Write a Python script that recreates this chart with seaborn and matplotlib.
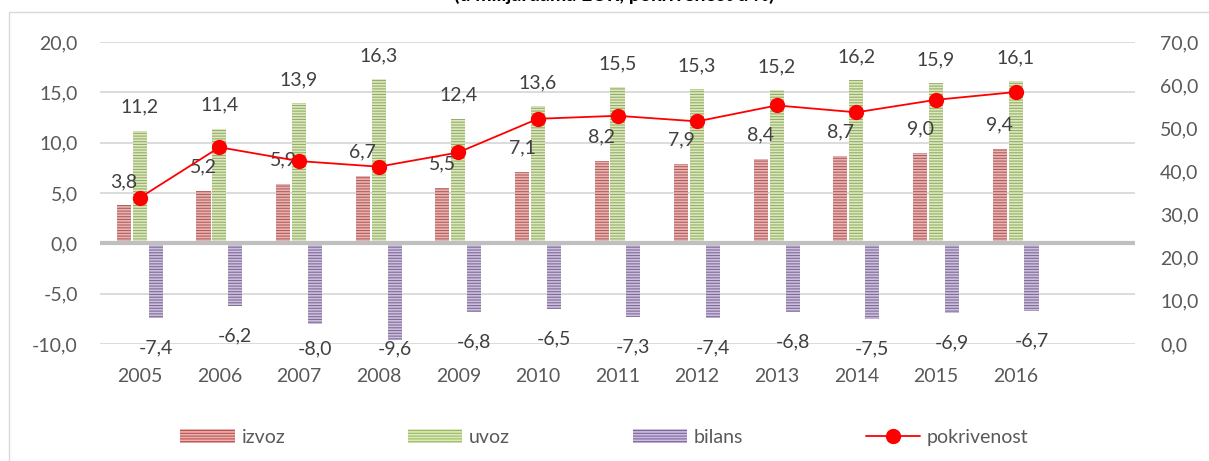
import numpy as np
import pandas as pd
import matplotlib
matplotlib.use("Agg")
import matplotlib.pyplot as plt
from matplotlib.patches import Patch, Rectangle
from matplotlib.lines import Line2D
from matplotlib.ticker import FuncFormatter, MultipleLocator
import seaborn as sns

# podaci ocitani sa slike
godine = ["2005", "2006", "2007", "2008", "2009", "2010", "2011", "2012", "2013", "2014", "2015", "2016"]
izvoz = [3.8, 5.2, 5.9, 6.7, 5.5, 7.1, 8.2, 7.9, 8.4, 8.7, 9.0, 9.4]
uvoz = [11.2, 11.4, 13.9, 16.3, 12.4, 13.6, 15.5, 15.3, 15.2, 16.2, 15.9, 16.1]
bilans = [-7.4, -6.2, -8.0, -9.6, -6.8, -6.5, -7.3, -7.4, -6.8, -7.5, -6.9, -6.7]
pokrivenost = [33.9, 45.6, 42.4, 41.1, 44.4, 52.2, 52.9, 51.6, 55.3, 53.7, 56.6, 58.4]
serije = ["izvoz", "uvoz", "bilans"]

boje = {"izvoz": "#c0504d", "uvoz": "#9bbb59", "bilans": "#8064a2"}
svijetle = {"izvoz": "#e8b4b3", "uvoz": "#dbe8c2", "bilans": "#cbbfdc"}
tekst_boja = "#404040"
osa_boja = "#595959"

df = pd.DataFrame({
    "godina": godine * 3,
    "serija": ["izvoz"] * 12 + ["uvoz"] * 12 + ["bilans"] * 12,
    "vrijednost": izvoz + uvoz + bilans,
})

sns.set_style("white")
plt.rcParams["font.family"] = ["Lato", "DejaVu Sans"]
plt.rcParams["hatch.linewidth"] = 1.2

fig = plt.figure(figsize=(12.09, 4.61), dpi=100)
ax = fig.add_axes([100 / 1209, 1 - 344 / 461, (1135 - 100) / 1209, (344 - 42) / 461])

sns.barplot(data=df, x="godina", y="vrijednost", hue="serija", hue_order=serije,
            order=godine, palette=boje, width=0.6, gap=0.12, legend=False, ax=ax)

fmt = lambda v: f"{v:.1f}".replace(".", ",")

for cont, s in zip(ax.containers, serije):
    for p in cont.patches:
        p.set_hatch("------")
        p.set_edgecolor(svijetle[s])
        p.set_linewidth(0)
        v = p.get_y() + p.get_height()
        xc = p.get_x() + p.get_width() / 2
        if v >= 0:
            ax.text(xc, v + 2.35, fmt(v), ha="center", va="center", fontsize=14, color=tekst_boja)
        else:
            ax.text(xc, max(v - 2.95, -10.5), fmt(v), ha="center", va="center", fontsize=14, color=tekst_boja)

ax.set_xlim(-0.5, 12.5)
ax.set_ylim(-10, 20)
ax.yaxis.set_major_locator(MultipleLocator(5))
ax.yaxis.set_major_formatter(FuncFormatter(lambda v, _: fmt(v)))
ax.grid(axis="y", color="#d9d9d9", lw=1.3)
ax.set_axisbelow(True)
ax.axhline(0, color="#bfbfbf", lw=3, zorder=1.5)
for sp in ax.spines.values():
    sp.set_visible(False)
ax.tick_params(axis="y", length=0, pad=16, labelsize=14, labelcolor=osa_boja)
ax.tick_params(axis="x", length=0, pad=17, labelsize=14, labelcolor=osa_boja)
ax.set_xlabel("")
ax.set_ylabel("")

ax2 = ax.twinx()
sns.lineplot(x=np.arange(len(godine)), y=pokrivenost, color="#ff0000", lw=1.3,
             marker="o", markersize=11, markeredgewidth=0, ax=ax2)
ax2.set_ylim(0, 70)
ax2.yaxis.set_major_locator(MultipleLocator(10))
ax2.yaxis.set_major_formatter(FuncFormatter(lambda v, _: fmt(v)))
for sp in ax2.spines.values():
    sp.set_visible(False)
ax2.tick_params(axis="y", length=0, pad=18, labelsize=14, labelcolor=osa_boja)
ax2.grid(False)

ruke = [Patch(facecolor=boje[s], edgecolor=svijetle[s], hatch="------", lw=0, label=s) for s in serije]
ruke.append(Line2D([], [], color="#ff0000", lw=1.3, marker="o", markersize=11,
                   markeredgewidth=0, label="pokrivenost"))
fig.legend(handles=ruke, loc="center", bbox_to_anchor=(0.5, 1 - 437 / 461), ncol=4,
           frameon=False, fontsize=14, handlelength=2.8, handletextpad=0.35,
           columnspacing=6.3, labelcolor=osa_boja)

# okvir grafikona
fig.add_artist(Rectangle((9 / 1209, -0.1), 1.2, 1.1 - 12 / 461, transform=fig.transFigure,
                         fill=False, edgecolor="#d9d9d9", lw=1))
# naslov je na originalu odsjecen gornjom ivicom
fig.text(0.508, 1 - 1 / 461, "(u milijardama EUR, pokrivenost u %)", ha="center",
         va="baseline", fontsize=14, fontweight="bold", color="black")

fig.savefig("out.png", dpi=100)
